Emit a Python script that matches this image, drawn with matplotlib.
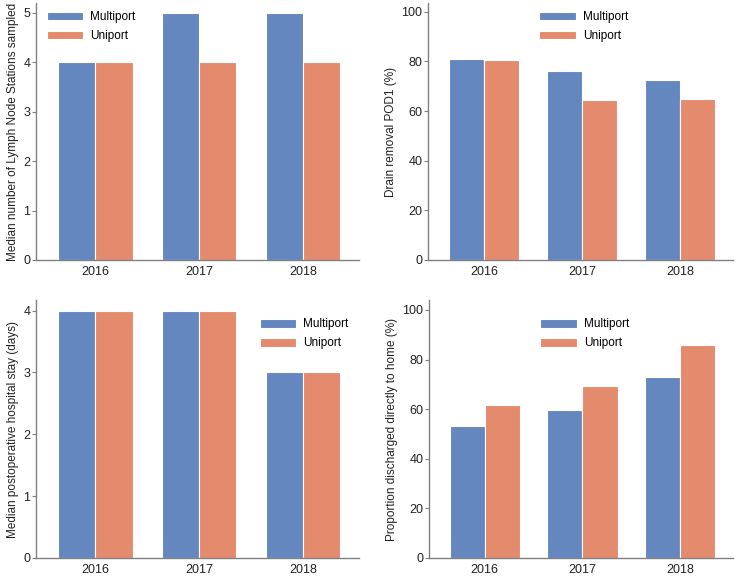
import matplotlib.pyplot as plt
import numpy as np

plt.rcParams['font.family'] = ['Liberation Sans', 'DejaVu Sans']

years = ['2016', '2017', '2018']

# lymph node stations
lymph_multi = [4, 5, 5]
lymph_uni = [4, 4, 4]

# drain removal POD1 (%)
drain_multi = [80.8, 76.1, 72.6]
drain_uni = [80.5, 64.6, 64.9]

# postoperative stay (days)
stay_multi = [4, 4, 3]
stay_uni = [4, 4, 3]

# discharged home (%)
home_multi = [53.3, 59.6, 72.8]
home_uni = [61.5, 69.4, 85.8]

blue = '#6487C0'
orange = '#E48A6D'
grey = '#808080'

fig = plt.figure(figsize=(7.39, 5.76), dpi=100)

panels = [
    # rect, multi, uni, ylabel, ylim, yticks, legend pos
    ([36/739, 316/576, 323/739, 257/576], lymph_multi, lymph_uni,
     'Median number of Lymph Node Stations sampled', 5.2, [0, 1, 2, 3, 4, 5],
     (0.0, 1.01)),
    ([428/739, 316/576, 305/739, 257/576], drain_multi, drain_uni,
     'Drain removal POD1 (%)', 103.5, [0, 20, 40, 60, 80, 100],
     (0.33, 1.01)),
    ([36/739, 18/576, 323/739, 258/576], stay_multi, stay_uni,
     'Median postoperative hospital stay (days)', 4.17, [0, 1, 2, 3, 4],
     (0.66, 0.97)),
    ([429/739, 18/576, 304/739, 258/576], home_multi, home_uni,
     'Proportion discharged directly to home (%)', 104, [0, 20, 40, 60, 80, 100],
     (0.33, 0.97)),
]

x = np.arange(len(years))
w = 0.36

for rect, multi, uni, ylab, ytop, yt, lpos in panels:
    ax = fig.add_axes(rect)
    ax.bar(x - w/2, multi, w, color=blue, edgecolor='white', linewidth=0.8, label='Multiport')
    ax.bar(x + w/2, uni, w, color=orange, edgecolor='white', linewidth=0.8, label='Uniport')
    ax.set_xlim(-0.57, 2.54)
    ax.set_ylim(0, ytop)
    ax.set_yticks(yt)
    ax.set_xticks(x)
    ax.set_xticklabels(years)
    ax.set_ylabel(ylab, fontsize=8.5, color='#222222', labelpad=3)
    for s in ['top', 'right']:
        ax.spines[s].set_visible(False)
    for s in ['left', 'bottom']:
        ax.spines[s].set_color(grey)
        ax.spines[s].set_linewidth(1)
    ax.tick_params(axis='y', length=3, color=grey, labelsize=9, pad=1, labelcolor='#222222')
    ax.tick_params(axis='x', length=0, labelsize=9, pad=4, labelcolor='#222222')
    ax.legend(loc='upper left', bbox_to_anchor=lpos, frameon=False, fontsize=8.5,
              handlelength=3.1, handleheight=0.75, labelspacing=0.6, handletextpad=0.6)

fig.savefig('out.png', dpi=100)
